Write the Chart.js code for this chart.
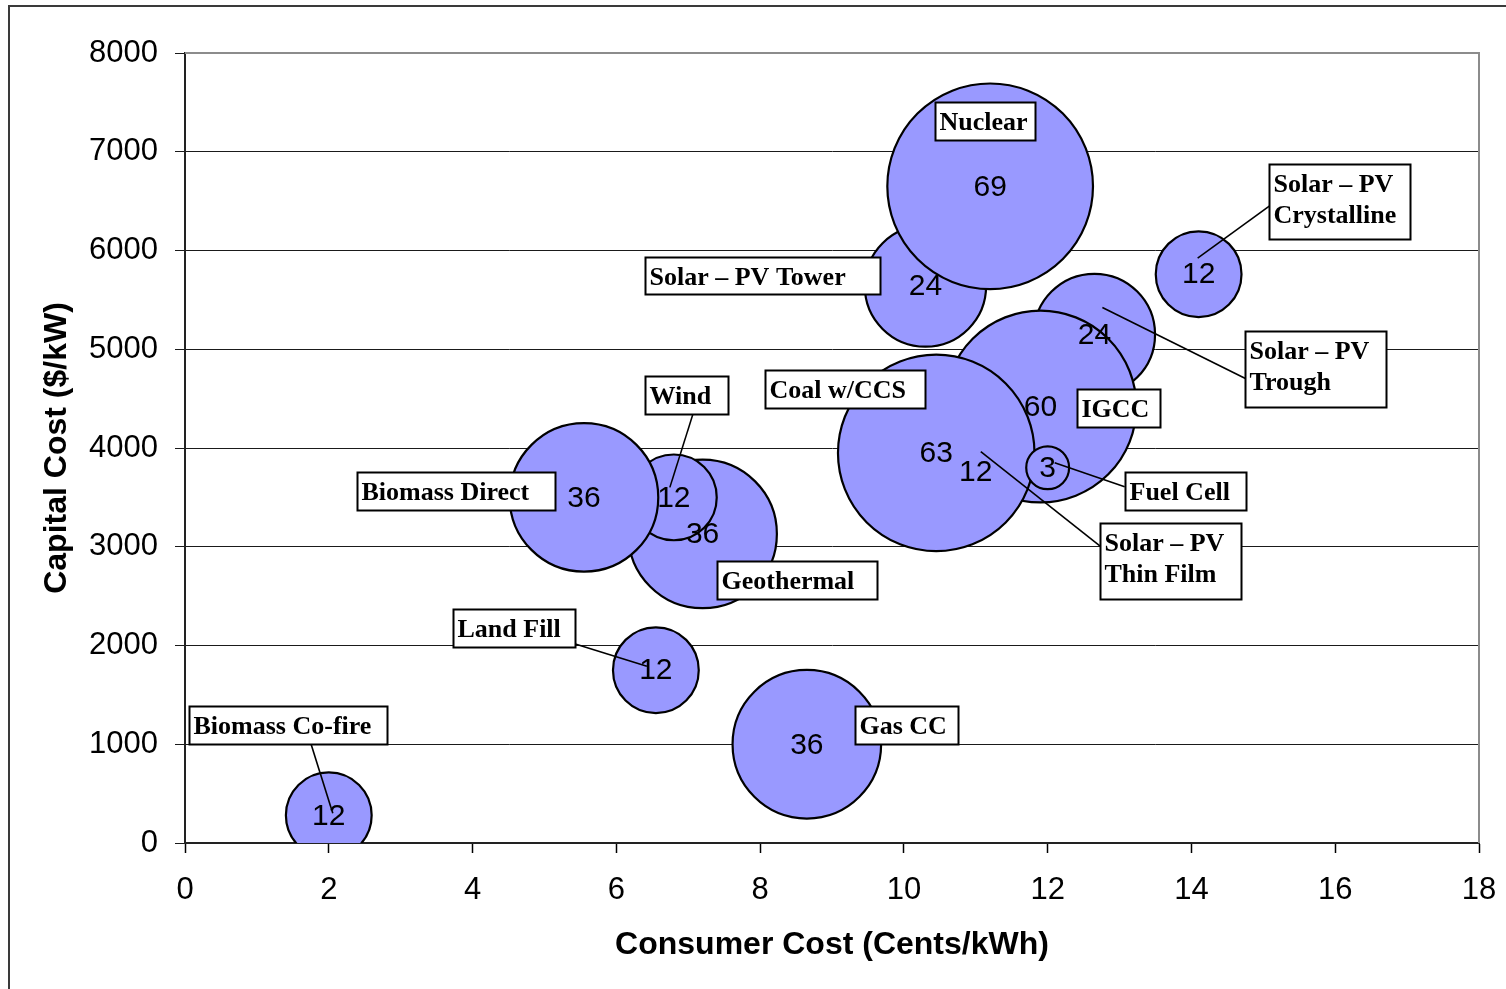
<!DOCTYPE html>
<html>
<head>
<meta charset="utf-8">
<title>Capital Cost vs Consumer Cost</title>
<script src="https://cdn.jsdelivr.net/npm/chart.js@4.4.0/dist/chart.umd.min.js"></script>
<style>
  html, body { margin: 0; padding: 0; background: #fff; }
  #wrap { width: 1506px; height: 989px; }
</style>
</head>
<body>
<div id="wrap"><canvas id="chart" width="1506" height="989"></canvas></div>
<script>
// ── Data (painting order: later bubbles sit on top) ─────────────────────────
const technologies = [
    ['Biomass Co-fire'], ['Land Fill'], ['Gas CC'], ['Geothermal'], ['Wind'], ['Biomass Direct'],
    ['Solar – PV Tower'], ['Nuclear'], ['Solar – PV', 'Trough'], ['IGCC'], ['Solar – PV', 'Thin Film'],
    ['Coal w/CCS'], ['Fuel Cell'], ['Solar – PV', 'Crystalline']
];
const consumerCost = [2.0, 6.55, 8.65, 7.2, 6.8, 5.55, 10.3, 11.2, 12.65, 11.9, 11.0, 10.45, 12.0, 14.1]; // cents/kWh
const capitalCost  = [280, 1750, 1000, 3130, 3500, 3500, 5640, 6650, 5150, 4420, 3760, 3950, 3800, 5760];   // $/kW
const bubbleSize   = [12, 12, 36, 36, 12, 36, 24, 69, 24, 60, 12, 63, 3, 12];

const xTicks = [0, 2, 4, 6, 8, 10, 12, 14, 16, 18];
const yTicks = [0, 1000, 2000, 3000, 4000, 5000, 6000, 7000, 8000];

// callout boxes: [dx, dy, w, h] from the bubble centre, optional leader [bx, by] in box -> [ex, ey] from centre
const callouts = [
    { box: [-140, -109, 198, 38], line: [122, 37, 4, -2] },
    { box: [-203, -61, 122, 38],  line: [120, 34, -9, -4] },
    { box: [48, -38, 103, 38] },
    { box: [14, 27, 160, 38] },
    { box: [-29, -121, 83, 38],   line: [48, 38, -4, -10] },
    { box: [-227, -25, 198, 38] },
    { box: [-280, -29, 235, 37] },
    { box: [-55, -84, 100, 38] },
    { box: [151, -3, 141, 76],    line: [0, 47, 8, -27] },
    { box: [37, -18, 83, 38] },
    { box: [124, 51, 141, 76],    line: [1, 24, 5, -20] },
    { box: [-171, -83, 160, 38] },
    { box: [77, 4, 121, 38],      line: [0, 15, 7, -5] },
    { box: [70, -110, 141, 75],   line: [2, 41, -1, -16] }
];

const SANS  = '"Liberation Sans", Arial, sans-serif';
const SERIF = '"Liberation Serif", "Times New Roman", serif';

// bubble area proportional to size
const radiusOf = (size) => 12.38 * Math.sqrt(size);

const points = consumerCost.map((x, i) => ({ x, y: capitalCost[i], r: radiusOf(bubbleSize[i]) }));

// ── Plugins ──────────────────────────────────────────────────────────────────
const framePlugin = {
    id: 'frame',
    beforeDraw(chart) {
        const ctx = chart.ctx;
        ctx.save();
        ctx.strokeStyle = '#3a3a3a';
        ctx.lineWidth = 2;
        ctx.beginPath();
        ctx.moveTo(9, chart.height);
        ctx.lineTo(9, 6);
        ctx.lineTo(chart.width, 6);
        ctx.stroke();
        ctx.restore();
    },
    beforeDatasetsDraw(chart) {
        // grey plot-area border on top and right
        const { ctx, chartArea: a } = chart;
        ctx.save();
        ctx.strokeStyle = '#8c8c8c';
        ctx.lineWidth = 2;
        ctx.beginPath();
        ctx.moveTo(a.left, a.top);
        ctx.lineTo(a.right, a.top);
        ctx.lineTo(a.right, a.bottom);
        ctx.stroke();
        ctx.restore();
    }
};

const calloutPlugin = {
    id: 'callouts',
    afterDatasetsDraw(chart) {
        const ctx = chart.ctx;
        const els = chart.getDatasetMeta(0).data;
        ctx.save();

        // values inside the bubbles
        ctx.font = '30px ' + SANS;
        ctx.fillStyle = '#000';
        ctx.textAlign = 'center';
        ctx.textBaseline = 'middle';
        els.forEach((p, i) => ctx.fillText(String(bubbleSize[i]), p.x, p.y + 1));

        // leader lines
        ctx.strokeStyle = '#000';
        ctx.lineWidth = 1.6;
        els.forEach((p, i) => {
            const c = callouts[i];
            if (!c.line) return;
            const bx = p.x + c.box[0], by = p.y + c.box[1];
            ctx.beginPath();
            ctx.moveTo(bx + c.line[0], by + c.line[1]);
            ctx.lineTo(p.x + c.line[2], p.y + c.line[3]);
            ctx.stroke();
        });

        // name boxes
        ctx.font = 'bold 26px ' + SERIF;
        ctx.textAlign = 'left';
        ctx.textBaseline = 'alphabetic';
        els.forEach((p, i) => {
            const [dx, dy, w, h] = callouts[i].box;
            const x = Math.round(p.x + dx) + 0.5, y = Math.round(p.y + dy) + 0.5;
            ctx.fillStyle = '#fff';
            ctx.fillRect(x, y, w, h);
            ctx.lineWidth = 2;
            ctx.strokeRect(x, y, w, h);
            ctx.fillStyle = '#000';
            technologies[i].forEach((line, k) => ctx.fillText(line, x + 4, y + 27 + k * 31));
        });

        ctx.restore();
    }
};

// ── Chart ────────────────────────────────────────────────────────────────────
new Chart(document.getElementById('chart'), {
    type: 'bubble',
    data: {
        datasets: [{
            data: points,
            backgroundColor: '#9999ff',
            borderColor: '#000',
            borderWidth: 2.2,
            clip: 0
        }]
    },
    options: {
        responsive: false,
        animation: false,
        events: [],
        layout: { autoPadding: false, padding: { top: 53, right: 27, left: 0, bottom: 0 } },
        plugins: { legend: { display: false }, tooltip: { enabled: false } },
        scales: {
            x: {
                type: 'linear',
                min: xTicks[0],
                max: xTicks[xTicks.length - 1],
                afterBuildTicks: (s) => { s.ticks = xTicks.map(v => ({ value: v })); },
                afterFit: (s) => { s.height = 146; s.paddingLeft = 0; s.paddingRight = 0; },
                grid: { drawOnChartArea: false, tickLength: 10, color: '#000', tickWidth: 1.5 },
                border: { color: '#222', width: 2 },
                ticks: {
                    color: '#000', font: { family: SANS, size: 31 }, padding: 19, maxRotation: 0,
                    callback: (v) => String(v)
                },
                title: {
                    display: true,
                    text: 'Consumer Cost (Cents/kWh)',
                    color: '#000',
                    font: { family: SANS, size: 32, weight: 'bold' },
                    padding: { top: 0, bottom: 25 }
                }
            },
            y: {
                type: 'linear',
                min: yTicks[0],
                max: yTicks[yTicks.length - 1],
                afterBuildTicks: (s) => { s.ticks = yTicks.map(v => ({ value: v })); },
                afterFit: (s) => { s.width = 185; s.paddingTop = 0; s.paddingBottom = 0; },
                grid: { color: '#1a1a1a', lineWidth: 1, tickLength: 10 },
                border: { color: '#222', width: 2 },
                ticks: {
                    color: '#000', font: { family: SANS, size: 31 }, padding: 17,
                    callback: (v) => String(v)
                },
                title: {
                    display: true,
                    text: 'Capital Cost ($/kW)',
                    color: '#000',
                    font: { family: SANS, size: 32, weight: 'bold' },
                    padding: { top: 38, bottom: 0 }
                }
            }
        }
    },
    plugins: [framePlugin, calloutPlugin]
});
</script>
</body>
</html>
